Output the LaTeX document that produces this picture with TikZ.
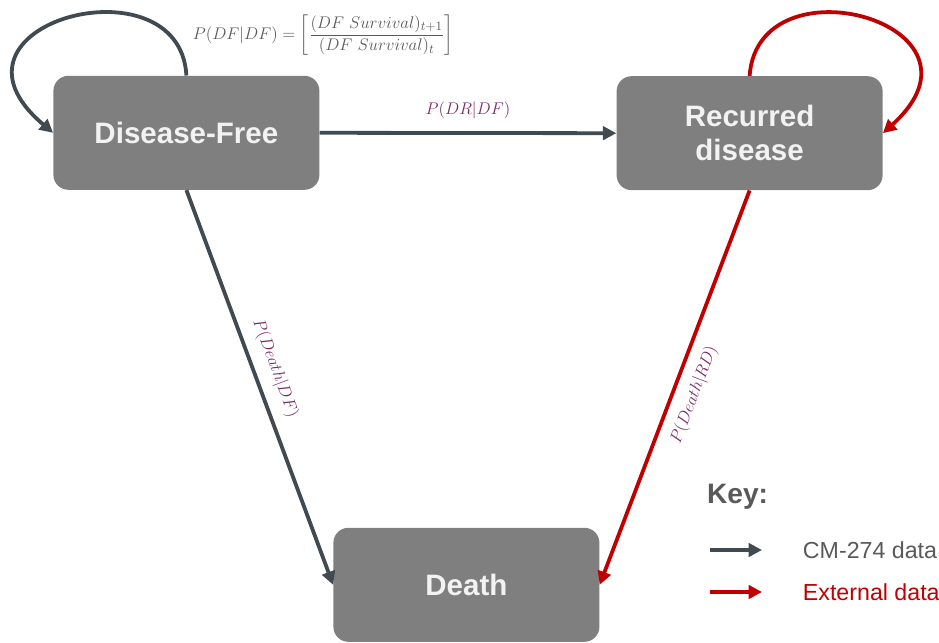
\documentclass[tikz,border=0pt]{standalone}
\usepackage{amsmath}
\usepackage{fontspec}
\setmainfont{Liberation Sans}
\usetikzlibrary{arrows.meta,positioning}

\definecolor{boxgray}{RGB}{127,127,127}
\definecolor{arrowgray}{RGB}{64,74,80}
\definecolor{extred}{RGB}{192,0,0}
\definecolor{labelpurple}{RGB}{122,40,104}
\definecolor{keygray}{RGB}{89,89,89}

\begin{document}
\begin{tikzpicture}[
		statebox/.style={rectangle, rounded corners=0.375cm, fill=boxgray, minimum width=6.65cm, minimum height=2.85cm, text=white!95!black, font=\bfseries\fontsize{21}{24}\selectfont, align=center},
		cmarrow/.style={draw=arrowgray, line width=2.7pt, -{Triangle[length=9.5pt,width=9.5pt]}},
		extarrow/.style={cmarrow, draw=extred},
		problabel/.style={text=labelpurple, font=\fontsize{13}{15}\selectfont},
		keytext/.style={anchor=west, font=\fontsize{16.5}{20}\selectfont}
	]
		\useasboundingbox (0,0) rectangle (23.475,-16.05);
		\node[statebox] (df) at (4.66,-3.32) {Disease-Free};
		\node[statebox] (rd) at (18.74,-3.33) {Recurred\\disease};
		\node[statebox] (death) at (11.66,-14.62) {Death};
		%
		\node[text=keygray, font=\fontsize{13}{15}\selectfont] (pdfdf) at (8.08,-0.88) {$P(DF|DF)=\left[\dfrac{(DF\ Survival)_{t+1}}{(DF\ Survival)_{t}}\right]$};
		\draw[cmarrow] (df.north) .. controls (4.5,1.1) and (-1.9,-0.6) .. (df.west);
		\draw[extarrow] (rd.north) .. controls (18.95,1.1) and (25.1,-0.6) .. (rd.east);
		\draw[cmarrow] (df.east) -- node[problabel, above=0.2cm] (pdrdf) {$P(DR|DF)$} (rd.west);
		\draw[cmarrow] (df.south) -- node[problabel, sloped, above=0.15cm, pos=0.47] (pdeathdf) {$P(Death|DF)$} (death.west);
		\draw[extarrow] (rd.south) -- node[problabel, sloped, below=0.15cm] (pdeathrd) {$P(Death|RD)$} (death.east);
		%
		\node[text=keygray, font=\bfseries\fontsize{20}{24}\selectfont] (key) at (18.44,-12.42) {Key:};
		\coordinate (cmstart) at (17.75,-13.75);
		\coordinate (cmend) at (19.05,-13.75);
		\coordinate (extstart) at (17.75,-14.8);
		\coordinate (extend) at (19.05,-14.8);
		\draw[cmarrow] (cmstart) -- (cmend);
		\draw[extarrow] (extstart) -- (extend);
		\node[keytext, text=keygray, right=0.9cm of cmend] (cmtext) {CM-274 data};
		\node[keytext, text=extred, right=0.9cm of extend] (exttext) {External data};
	\end{tikzpicture}
\end{document}
